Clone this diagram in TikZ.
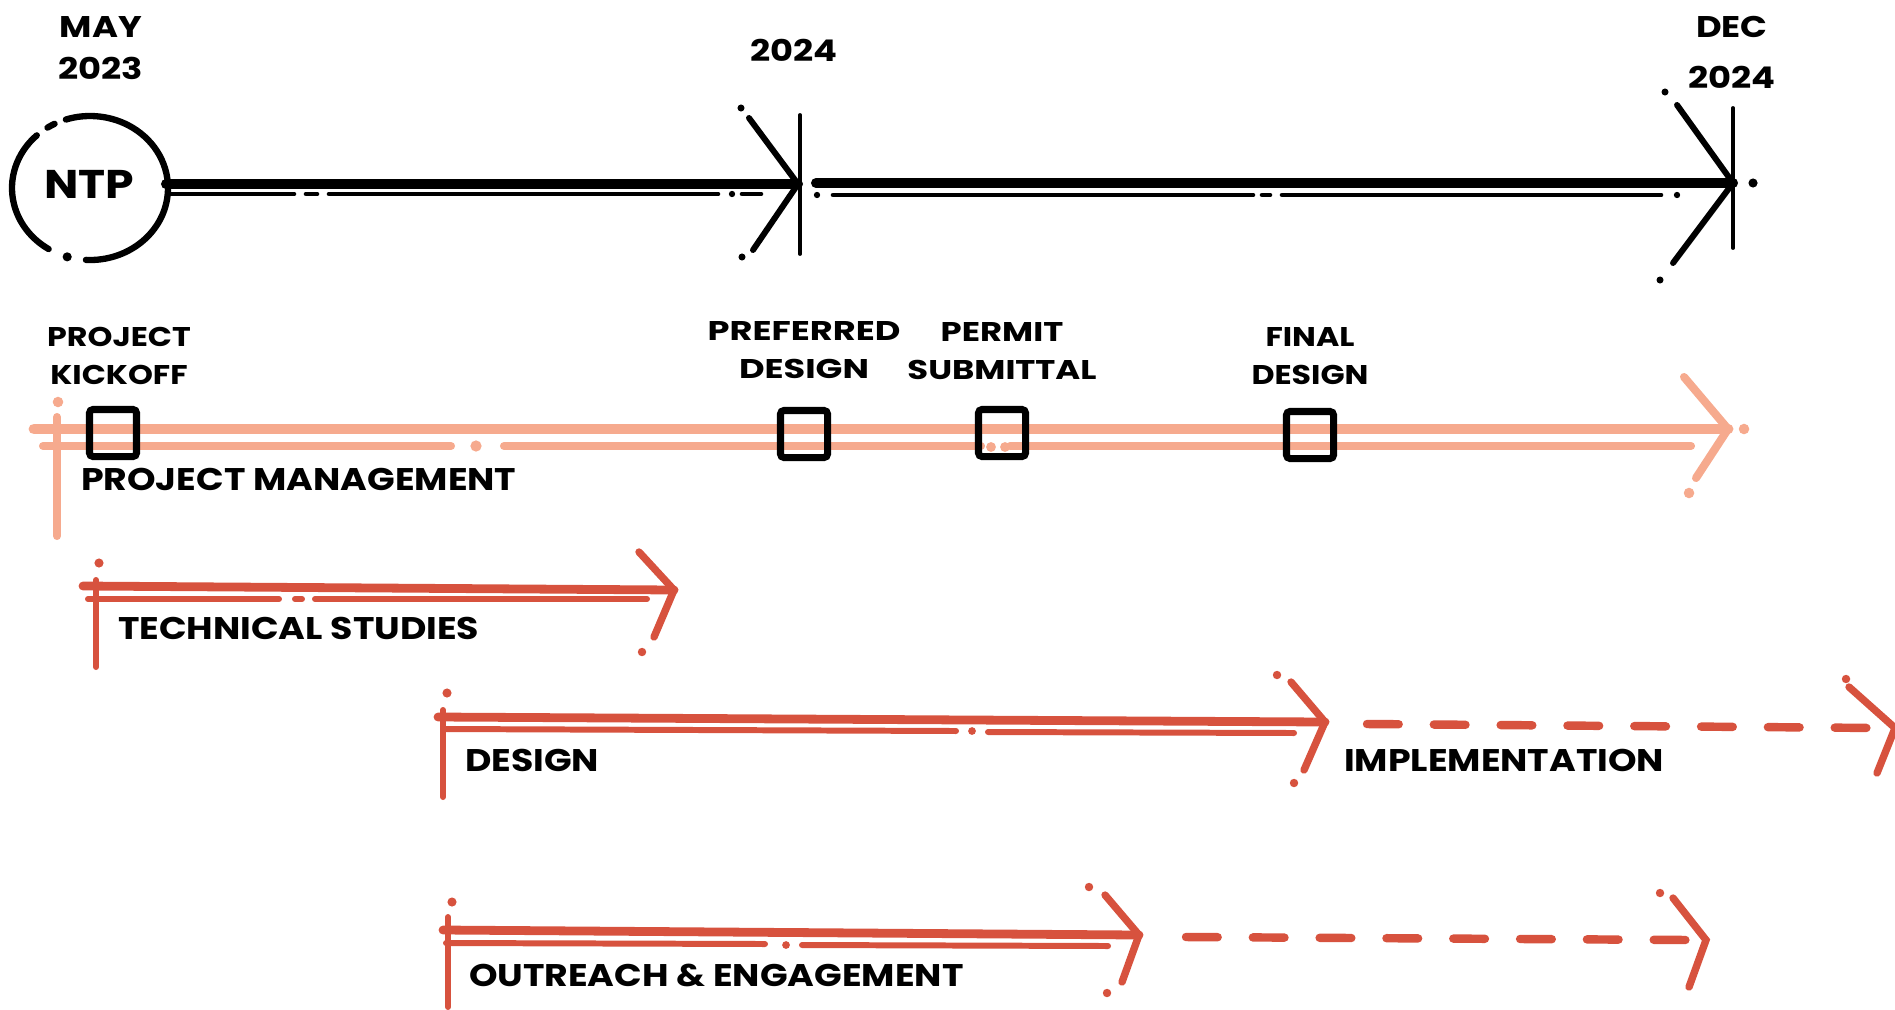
\documentclass[tikz,border=0pt]{standalone}
\usepackage{fontspec}
\setmainfont{Poppins}
\newfontfamily\bigfont{Poppins}[FakeStretch=1.16]
\newfontfamily\datefont{Poppins}[FakeStretch=1.18]
\newfontfamily\ntpfont{Poppins}[FakeStretch=1.14]
\newfontfamily\msfontA{Poppins}[FakeStretch=1.17]
\newfontfamily\msfontB{Poppins}[FakeStretch=1.30]
\newfontfamily\msfontC{Poppins}[FakeStretch=1.25]
\definecolor{salmon}{RGB}{246,170,142}
\definecolor{brick}{RGB}{215,82,62}
\begin{document}
\begin{tikzpicture}[x=0.01cm,y=-0.01cm,
  every node/.style={inner sep=0pt, outer sep=0pt},
  biglbl/.style={font=\bigfont\bfseries\fontsize{8.9}{10}\selectfont, anchor=base west},
  mslbl/.style={font=\msfontA\bfseries\fontsize{7.7}{11}\selectfont, align=center},
  datelbl/.style={font=\datefont\bfseries\fontsize{8.5}{11.9}\selectfont, align=center},
  ntplbl/.style={font=\ntpfont\bfseries\fontsize{11.4}{12}\selectfont},
  ring/.style={line width=1.8pt, line cap=round},
  mainln/.style={line width=2.85pt, line cap=round},
  subln/.style={line width=1.3pt, line cap=round},
  tipln/.style={line width=1.7pt, line cap=round},
  tickln/.style={line width=1.1pt, line cap=round},
  pmmain/.style={salmon, line width=3.1pt, line cap=round},
  pmsub/.style={salmon, line width=2.3pt, line cap=round},
  pmtip/.style={salmon, line width=2.3pt, line cap=round},
  rdmain/.style={brick, line width=2.5pt, line cap=round},
  rdsub/.style={brick, line width=1.7pt, line cap=round},
  rdtip/.style={brick, line width=2.1pt, line cap=round},
  rddash/.style={brick, line width=2.4pt, line cap=round, dash pattern=on 9pt off 10pt},
  msbox/.style={draw, line width=2pt, rounded corners=1pt, minimum width=0.47cm, minimum height=0.47cm},
]
\useasboundingbox (0,0) rectangle (1895,1009);

% ---------------- top timeline ----------------
\node[datelbl] (may) at (101,48) {MAY\\2023};
\node[datelbl] (y24) at (794,50) {2024};
\node[datelbl, font=\datefont\bfseries\fontsize{8.5}{14.5}\selectfont] (dec) at (1732,52) {DEC\\2024};

\coordinate (nc) at (90,188);
\node[ntplbl] (ntp) at (89,184) {NTP};
\draw[ring] (nc) ++(93:78 and 72) arc[start angle=93, end angle=-108, x radius=78, y radius=72];
\draw[ring] (nc) ++(-117:78 and 72) arc[start angle=-117, end angle=-123, x radius=78, y radius=72];
\draw[ring] (nc) ++(-133:78 and 72) arc[start angle=-133, end angle=-238, x radius=78, y radius=72];
\fill (nc) ++(-253:78 and 72) circle[radius=1.3pt];

\coordinate (s0) at (166,184);
\coordinate (a1) at (798,184);
\coordinate (s1) at (816,183);
\coordinate (a2) at (1733,183);
\draw[mainln] (s0) -- (a1);
\draw[mainln] (s1) -- (a2);
% thin companion lines
\coordinate (t0a) at (171,194); \coordinate (t0b) at (294,194);
\coordinate (t1a) at (306,194); \coordinate (t1b) at (317,194);
\coordinate (t2a) at (329,194); \coordinate (t2b) at (718,194);
\coordinate (t3a) at (742,194); \coordinate (t3b) at (761,194);
\draw[subln] (t0a) -- (t0b);
\draw[subln] (t1a) -- (t1b);
\draw[subln] (t2a) -- (t2b);
\draw[subln] (t3a) -- (t3b);
\fill (732,194) circle[radius=0.9pt];
\fill (817,195) circle[radius=0.9pt];
\coordinate (u0a) at (833,195); \coordinate (u0b) at (1253,195);
\coordinate (u1a) at (1262,195); \coordinate (u1b) at (1270,195);
\coordinate (u2a) at (1282,195); \coordinate (u2b) at (1661,195);
\draw[subln] (u0a) -- (u0b);
\draw[subln] (u1a) -- (u1b);
\draw[subln] (u2a) -- (u2b);
\fill (1677,195) circle[radius=0.9pt];
% arrow tips
\draw[tipln] (749,118) -- (a1) -- (753,250);
\fill (741,108) circle[radius=1pt];
\fill (742,257) circle[radius=1pt];
\draw[tickln] (800,115) -- (800,254);
\draw[tipln] (1677,105) -- (a2) -- (1673,263);
\fill (1665,92) circle[radius=1pt];
\fill (1660,280) circle[radius=1pt];
\fill (1753,183) circle[radius=1.3pt];
\draw[tickln] (1733,108) -- (1733,248);

% ---------------- project management ----------------
\node[mslbl] (l1) at (119,356) {PROJECT\\KICKOFF};
\node[mslbl, font=\msfontB\bfseries\fontsize{7.7}{11}\selectfont] (l2) at (804,350) {PREFERRED\\DESIGN};
\node[mslbl, font=\msfontC\bfseries\fontsize{7.7}{11}\selectfont] (l3) at (1002,351) {PERMIT\\SUBMITTAL};
\node[mslbl] (l4) at (1310,356) {FINAL\\DESIGN};

\coordinate (pm0) at (34,429);
\coordinate (pm1) at (1728,429);
\draw[pmsub] (57,417) -- (57,536);
\fill[salmon] (58,402) circle[radius=1.5pt];
\draw[pmmain] (pm0) -- (pm1);
\draw[pmsub] (43,446) -- (451,446);
\fill[salmon] (476,446) circle[radius=1.6pt];
\draw[pmsub] (504,446) -- (981,446);
\fill[salmon] (991,447) circle[radius=1.4pt];
\fill[salmon] (1005,447) circle[radius=1.4pt];
\draw[pmsub] (1010,446) -- (1691,446);
\draw[pmtip] (1684,377) -- (pm1) -- (1696,478);
\fill[salmon] (1744,429) circle[radius=1.5pt];
\fill[salmon] (1689,493) circle[radius=1.5pt];

\node[msbox] (b1) at (113,433) {};
\node[msbox] (b2) at (804,434) {};
\node[msbox] (b3) at (1002,433) {};
\node[msbox] (b4) at (1310,435) {};

\node[biglbl] (pm) at (81,490) {PROJECT MANAGEMENT};

% ---------------- technical studies ----------------
\coordinate (ts0) at (83,586);
\coordinate (ts1) at (674,590);
\draw[rdsub] (96,580) -- (96,667);
\fill[brick] (99,563) circle[radius=1.3pt];
\draw[rdmain] (ts0) -- (ts1);
\draw[rdsub] (88,599) -- (279,599);
\draw[rdsub] (295,599) -- (302,599);
\draw[rdsub] (315,599) -- (647,599);
\draw[rdtip] (639,552) -- (ts1) -- (654,637);
\fill[brick] (642,652) circle[radius=1.2pt];
\node[biglbl] (ts) at (118,639) {TECHNICAL STUDIES};

% ---------------- design / implementation ----------------
\coordinate (d0) at (438,717);
\coordinate (d1) at (1325,722);
\draw[rdsub] (443,710) -- (443,797);
\fill[brick] (447,693) circle[radius=1.3pt];
\draw[rdmain] (d0) -- (d1);
\draw[rdsub] (443,729) -- (956,731);
\fill[brick] (972,731) circle[radius=1.1pt];
\draw[rdsub] (988,732) -- (1294,733);
\draw[rdtip] (1291,682) -- (d1) -- (1304,770);
\fill[brick] (1277,675) circle[radius=1.2pt];
\fill[brick] (1294,783) circle[radius=1.2pt];
\node[biglbl] (ds) at (465,771) {DESIGN};

\coordinate (i0) at (1367,724);
\coordinate (i1) at (1895,728);
\draw[rddash] (i0) -- (1880,728);
\draw[rdtip] (1849,687) -- (i1) -- (1877,773);
\fill[brick] (1846,679) circle[radius=1.2pt];
\node[biglbl] (im) at (1344,771) {IMPLEMENTATION};

% ---------------- outreach ----------------
\coordinate (o0) at (443,930);
\coordinate (o1) at (1139,935);
\draw[rdsub] (448,917) -- (448,1007);
\fill[brick] (452,902) circle[radius=1.3pt];
\draw[rdmain] (o0) -- (o1);
\draw[rdsub] (446,943) -- (765,944);
\fill[brick] (786,945) circle[radius=1.1pt];
\draw[rdsub] (802,945) -- (1108,946);
\draw[rdtip] (1105,895) -- (o1) -- (1122,982);
\fill[brick] (1089,887) circle[radius=1.2pt];
\fill[brick] (1107,993) circle[radius=1.2pt];

\coordinate (e0) at (1186,937);
\coordinate (e1) at (1706,940);
\draw[rddash] (e0) -- (1690,940);
\draw[rdtip] (1673,898) -- (e1) -- (1689,987);
\fill[brick] (1660,893) circle[radius=1.2pt];
\node[biglbl] (oe) at (469,986) {OUTREACH \& ENGAGEMENT};
\end{tikzpicture}
\end{document}
